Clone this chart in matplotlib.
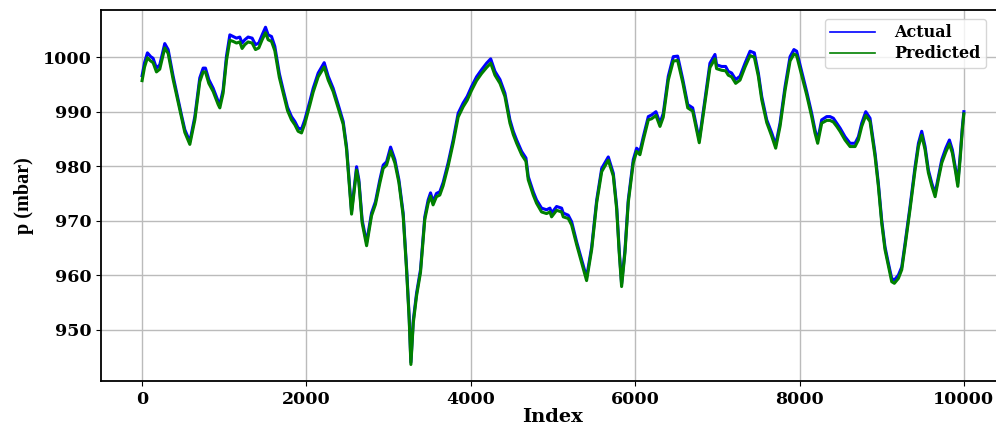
import matplotlib
matplotlib.use("Agg")
import matplotlib.pyplot as plt

# sample index and surface pressure (mbar)
index = [
    0, 30, 65, 105, 134, 175, 215, 276, 317, 378, 439, 479, 520, 581, 642,
    702, 743, 771, 812, 865, 926, 946, 986, 1027, 1068, 1108, 1149, 1189,
    1217, 1250, 1290, 1339, 1380, 1420, 1461, 1502, 1534, 1575, 1615, 1670,
    1717, 1770, 1818, 1859, 1899, 1940, 1980, 2041, 2082, 2143, 2216, 2265,
    2325, 2386, 2447, 2488, 2516, 2549, 2610, 2638, 2678, 2732, 2792, 2840,
    2893, 2934, 2975, 3024, 3076, 3125, 3177, 3218, 3250, 3271, 3300, 3340,
    3388, 3440, 3481, 3510, 3541, 3582, 3623, 3663, 3724, 3785, 3846, 3907,
    3956, 4009, 4070, 4131, 4192, 4242, 4294, 4355, 4415, 4476, 4517, 4558,
    4619, 4671, 4699, 4760, 4800, 4861, 4922, 4963, 4983, 5044, 5105, 5125,
    5186, 5227, 5288, 5349, 5409, 5471, 5532, 5593, 5673, 5734, 5775, 5806,
    5835, 5876, 5916, 5977, 6018, 6058, 6099, 6160, 6200, 6253, 6302, 6342,
    6403, 6464, 6517, 6580, 6640, 6700, 6780, 6849, 6910, 6971, 6991, 7052,
    7101, 7133, 7174, 7223, 7276, 7337, 7398, 7450, 7499, 7540, 7601, 7662,
    7710, 7763, 7824, 7885, 7932, 7965, 8026, 8087, 8148, 8188, 8221, 8270,
    8331, 8371, 8412, 8453, 8493, 8554, 8615, 8676, 8716, 8757, 8806, 8858,
    8919, 8959, 9000, 9040, 9081, 9122, 9154, 9203, 9244, 9284, 9345, 9406,
    9447, 9487, 9528, 9568, 9609, 9650, 9690, 9731, 9780, 9824, 9860, 9901,
    9926, 9954, 9982, 10000,
]

actual = [
    996.6, 999.0, 1000.8, 1000.1, 999.8, 998.0, 998.6, 1002.5, 1001.4, 996.5,
    992.2, 989.4, 986.7, 984.5, 989.1, 996.2, 998.0, 998.0, 995.9, 994.3,
    991.9, 991.3, 994.0, 1000.2, 1004.1, 1003.8, 1003.5, 1003.7, 1002.6,
    1003.2, 1003.7, 1003.5, 1002.3, 1002.6, 1004.1, 1005.5, 1004.1, 1003.8,
    1002.0, 997.0, 994.0, 990.8, 989.1, 988.2, 987.0, 986.8, 988.5, 991.9,
    994.3, 997.1, 999.0, 996.5, 994.3, 991.3, 988.2, 983.6, 978.1, 971.7,
    979.9, 977.5, 970.1, 966.0, 971.4, 973.5, 977.5, 980.2, 980.8, 983.5,
    981.2, 977.5, 971.4, 961.5, 952.4, 944.0, 951.7, 956.7, 961.0, 970.7,
    973.8, 975.1, 973.5, 975.0, 975.3, 977.0, 980.6, 984.8, 989.7, 991.6,
    992.8, 994.6, 996.4, 997.7, 998.9, 999.7, 997.4, 995.9, 993.4, 988.5,
    986.4, 984.8, 982.7, 981.5, 978.1, 975.3, 973.8, 972.3, 972.0, 972.3,
    971.4, 972.6, 972.3, 971.4, 971.0, 969.8, 966.1, 962.8, 959.6, 965.2,
    973.8, 979.6, 981.7, 978.7, 972.6, 964.6, 958.4, 964.6, 973.8, 981.2,
    983.3, 982.7, 985.4, 989.1, 989.4, 990.0, 987.9, 989.7, 996.5, 1000.1,
    1000.2, 995.9, 991.3, 990.7, 984.8, 992.2, 998.9, 1000.5, 998.6, 998.3,
    998.3, 997.4, 997.1, 995.9, 996.5, 998.9, 1001.1, 1000.8, 997.1, 992.8,
    988.5, 986.1, 983.9, 987.9, 994.6, 1000.1, 1001.4, 1001.1, 997.4, 993.7,
    989.7, 986.7, 984.8, 988.5, 989.1, 989.1, 988.8, 987.9, 987.0, 985.4,
    984.2, 984.2, 985.4, 987.9, 990.0, 988.8, 982.4, 976.9, 970.1, 965.2,
    962.2, 959.4, 959.1, 960.0, 961.5, 965.8, 972.6, 979.9, 984.2, 986.4,
    983.6, 979.3, 976.9, 975.0, 978.1, 981.2, 983.3, 984.8, 983.0, 979.3,
    976.9, 981.8, 987.3, 990.0,
]

predicted = [
    995.7, 998.2, 999.9, 999.3, 999.0, 997.3, 997.8, 1001.7, 1000.7, 995.9,
    991.7, 988.9, 986.2, 984.0, 988.5, 995.5, 997.3, 997.3, 995.2, 993.7,
    991.3, 990.7, 993.4, 999.4, 1003.1, 1002.9, 1002.6, 1002.8, 1001.6,
    1002.3, 1002.8, 1002.6, 1001.4, 1001.7, 1003.2, 1004.5, 1003.2, 1002.9,
    1001.2, 996.3, 993.4, 990.2, 988.5, 987.6, 986.4, 986.1, 987.8, 991.2,
    993.6, 996.4, 998.2, 995.8, 993.7, 990.7, 987.7, 983.1, 977.6, 971.2,
    979.3, 977.0, 969.6, 965.4, 970.9, 973.0, 976.9, 979.6, 980.2, 982.8,
    980.6, 977.0, 970.9, 961.0, 951.9, 943.6, 951.2, 956.2, 960.5, 970.2,
    973.2, 974.5, 972.9, 974.4, 974.7, 976.4, 980.0, 984.2, 989.0, 990.9,
    992.1, 993.9, 995.7, 997.0, 998.1, 998.9, 996.7, 995.2, 992.8, 987.9,
    985.8, 984.2, 982.1, 980.9, 977.5, 974.7, 973.2, 971.6, 971.3, 971.6,
    970.7, 971.9, 971.6, 970.7, 970.4, 969.2, 965.6, 962.3, 959.0, 964.7,
    973.3, 979.0, 981.1, 978.2, 972.1, 964.1, 957.9, 964.1, 973.3, 980.6,
    982.7, 982.1, 984.8, 988.5, 988.7, 989.3, 987.3, 989.0, 995.8, 999.3,
    999.4, 995.3, 990.7, 990.1, 984.3, 991.6, 998.1, 999.7, 997.9, 997.6,
    997.5, 996.7, 996.4, 995.2, 995.8, 998.2, 1000.3, 1000.0, 996.5, 992.2,
    988.0, 985.5, 983.3, 987.3, 993.9, 999.3, 1000.6, 1000.3, 996.7, 993.1,
    989.1, 986.1, 984.2, 987.9, 988.4, 988.4, 988.1, 987.3, 986.4, 984.8,
    983.6, 983.6, 984.8, 987.3, 989.3, 988.2, 981.8, 976.4, 969.6, 964.7,
    961.7, 958.8, 958.5, 959.4, 961.0, 965.3, 972.1, 979.3, 983.6, 985.7,
    983.0, 978.8, 976.4, 974.4, 977.6, 980.6, 982.6, 984.1, 982.4, 978.8,
    976.3, 981.2, 986.8, 989.6,
]

# wide serif for ticks, x label and legend; narrow serif for the rotated y label
WIDE = ["DejaVu Serif"]
NARROW = ["Liberation Serif", "DejaVu Serif"]
plt.rcParams["font.family"] = WIDE
plt.rcParams["font.weight"] = "bold"

fig = plt.figure(figsize=(9.96, 4.26), dpi=100)
ax = fig.add_axes([0.1014, 0.106, 0.9076, 0.871])

ax.plot(index, actual, color="blue", lw=2.2, label="Actual")
ax.plot(index, predicted, color="green", lw=2.2, label="Predicted")

ax.set_xlim(-500, 10500)
ax.set_ylim(940.6, 1008.7)
ax.set_xticks([0, 2000, 4000, 6000, 8000, 10000])
ax.set_yticks([950, 960, 970, 980, 990, 1000])
ax.tick_params(labelsize=12.5)
for lbl in ax.get_xticklabels() + ax.get_yticklabels():
    lbl.set_fontweight("bold")

ax.set_xlabel("Index", fontsize=14, fontweight="bold", labelpad=0)
ax.set_ylabel("p (mbar)", fontsize=14.5, fontweight="bold", family=NARROW,
              labelpad=6)
ax.grid(True, color="#bbbbbb", lw=1.0)

for side in ["left", "bottom", "top"]:
    ax.spines[side].set_linewidth(1.3)

leg = ax.legend(loc="upper right", prop={"size": 11.5, "weight": "bold"},
                borderaxespad=0.5, handlelength=2.8, handletextpad=1.2,
                labelspacing=0.25, borderpad=0.35,
                bbox_to_anchor=(0.988, 0.998))
for line in leg.get_lines():
    line.set_linewidth(1.2)

fig.savefig("out.png", dpi=100)
